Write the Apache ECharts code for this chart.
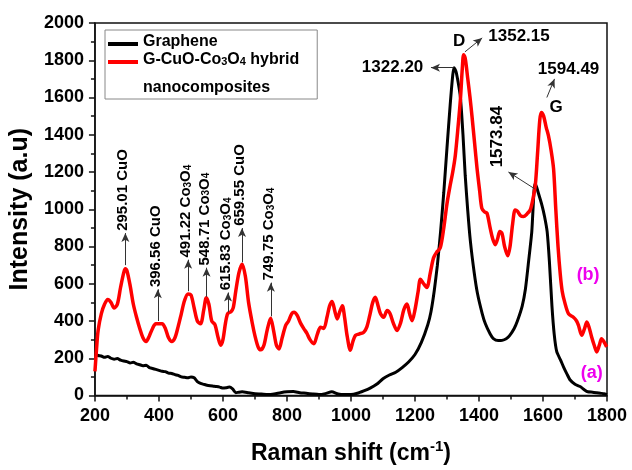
<!DOCTYPE html>
<html>
<head>
<meta charset="utf-8">
<script src="https://cdn.jsdelivr.net/npm/echarts@6/dist/echarts.min.js"></script>
<style>
  html, body { margin: 0; padding: 0; background: #fff; }
  #chart { width: 632px; height: 470px; }
</style>
</head>
<body>
<div id="chart"></div>
<script>
// Raman spectra: (a) graphene, (b) G-CuO-Co3O4 hybrid nanocomposite
const shiftA = [200,210,220,230,240,250,260,270,280,290,300,310,320,330,340,350,360,370,380,390,400,410,420,430,440,450,460,470,480,490,500,510,520,530,540,550,560,570,580,590,600,610,620,630,640,650,660,680,700,720,740,760,780,800,820,840,860,880,900,920,940,960,980,1000,1020,1040,1060,1080,1100,1120,1140,1160,1180,1200,1220,1240,1250,1260,1270,1280,1290,1300,1310,1318,1322,1328,1335,1342,1350,1357,1365,1373,1385,1395,1410,1420,1435,1445,1460,1472,1485,1495,1510,1520,1535,1545,1555,1565,1572,1576,1585,1597,1605,1613,1620,1628,1635,1643,1655,1664,1675,1685,1700,1716,1730,1740,1755,1768,1780,1790,1800];
const intensityA = [222,215,212,205,210,200,195,198,190,185,182,175,178,170,165,160,163,150,145,140,135,130,128,120,118,112,108,100,98,95,100,95,75,65,60,55,52,50,48,45,40,42,45,35,15,18,20,15,10,8,5,8,15,20,22,15,12,8,5,10,20,8,5,5,12,25,40,60,90,110,125,150,180,220,285,380,450,560,700,880,1090,1330,1560,1720,1760,1740,1680,1600,1400,1180,990,830,660,550,440,385,330,305,295,296,305,320,360,400,480,570,720,880,1100,1138,1090,1020,960,880,720,480,330,235,190,154,115,83,60,48,30,20,18,15,12,10,5];

const shiftB = [200,205,210,220,230,240,250,260,270,280,290,295,300,310,320,330,340,350,360,370,380,390,400,410,420,430,440,450,460,470,480,491,500,510,520,530,540,548,556,565,575,585,593,600,608,615,625,632,640,650,660,670,680,692,700,710,718,728,738,749,758,767,775,785,796,805,815,822,832,842,853,862,872,884,895,905,915,925,933,941,950,957,965,973,980,988,998,1006,1014,1025,1040,1050,1060,1068,1076,1085,1092,1102,1113,1122,1132,1144,1155,1165,1175,1183,1191,1200,1210,1217,1227,1237,1248,1258,1268,1279,1290,1300,1310,1318,1326,1335,1342,1348,1352,1357,1365,1372,1378,1386,1394,1402,1409,1418,1425,1435,1443,1451,1458,1465,1472,1480,1490,1497,1505,1513,1520,1530,1539,1550,1560,1568,1576,1583,1590,1595,1602,1610,1617,1625,1633,1640,1647,1654,1660,1668,1680,1695,1705,1711,1721,1730,1737,1745,1752,1760,1768,1776,1783,1790,1799];
const intensityB = [130,250,350,440,490,515,500,470,490,580,660,680,670,590,490,420,360,310,290,320,360,385,385,385,360,310,290,310,370,440,510,545,540,470,400,385,460,525,490,400,380,310,270,300,390,440,450,470,560,660,705,640,500,385,320,260,245,270,350,415,350,270,250,310,377,400,440,447,430,390,358,335,300,278,330,367,360,420,480,505,450,411,450,482,420,320,243,290,323,330,340,370,440,500,527,480,440,420,456,440,390,349,390,460,491,440,402,460,560,624,600,580,660,739,770,793,900,1030,1129,1200,1289,1450,1590,1760,1830,1810,1700,1600,1502,1360,1218,1100,1005,985,979,899,840,810,840,880,870,800,750,800,920,996,990,965,961,975,996,1050,1129,1300,1480,1520,1500,1440,1395,1320,1218,1000,800,650,560,500,438,420,400,376,323,360,394,360,314,270,234,270,305,290,261];

// Assigned bands of the composite
const bandShift = [295.01, 396.56, 491.22, 548.71, 615.83, 659.55, 749.75];
const bandPhase = ['CuO', 'CuO', 'Co3O4', 'Co3O4', 'Co3O4', 'CuO', 'Co3O4'];

// D and G band positions
const dBandA = 1322.20, dBandB = 1352.15;
const gBandA = 1573.84, gBandB = 1594.49;

const xTicks = { min: 200, max: 1800, step: 200 };
const yTicks = { min: 0, max: 2000, step: 200 };

const FONT = 'Liberation Sans, Arial, sans-serif';

function pairs(xs, ys) { return xs.map((x, i) => [x, ys[i]]); }
function valueAt(xs, ys, x) {
  let best = 0;
  xs.forEach((v, i) => { if (Math.abs(v - x) < Math.abs(xs[best] - x)) best = i; });
  return ys[best];
}
function phaseRich(p) {
  return p === 'Co3O4' ? '{t|Co}{s|3}{t|O}{s|4}' : '{t|' + p + '}';
}

const annRich = {
  t: { fontSize: 15, fontWeight: 'bold', fontFamily: FONT, color: '#000', padding: [0, 0, 4, 0] },
  s: { fontSize: 10, fontWeight: 'bold', fontFamily: FONT, color: '#000' }
};
const bigLabel = { fontSize: 17, fontWeight: 'bold', fontFamily: FONT, color: '#000' };

// arrow tail / head for each composite band label
const bandArrow = [[700, 872], [400, 570], [560, 729], [530, 686], [447, 553], [715, 899], [425, 606]];

const arrowStyle = { color: '#333', width: 1, type: 'solid' };

const bandArrows = bandShift.map((x, i) => [
  { coord: [x, bandArrow[i][0]] }, { coord: [x, bandArrow[i][1]] }
]);
const bandNotes = bandShift.map((x, i) => ({
  coord: [x, bandArrow[i][1] + 12],
  label: {
    show: true, position: 'inside', rotate: 90, align: 'left', verticalAlign: 'middle',
    formatter: '{t|' + x.toFixed(2) + ' }' + phaseRich(bandPhase[i]),
    rich: annRich
  }
}));

const peakA_D = valueAt(shiftA, intensityA, dBandA);
const peakB_D = valueAt(shiftB, intensityB, dBandB);
const peakA_G = valueAt(shiftA, intensityA, gBandA);

const tickText = { fontSize: 18, fontWeight: 'bold', fontFamily: FONT, color: '#000', formatter: v => String(v) };
const axisLine = { show: true, lineStyle: { color: '#111', width: 1.5 } };
const axisTick = { show: true, length: 6, lineStyle: { color: '#111', width: 1.5 } };
const minorTick = { show: true, splitNumber: 2, length: 4, lineStyle: { color: '#111', width: 1.5 } };

const option = {
  animation: false,
  backgroundColor: '#fff',
  grid: { left: 94, right: 25, top: 23, bottom: 71, show: true, borderColor: '#111', borderWidth: 1.5 },
  legend: {
    left: 105, top: 30, orient: 'vertical',
    itemWidth: 30, itemHeight: 4, icon: 'rect', itemGap: 2,
    padding: [4, 18, 31, 3],
    borderColor: '#888', borderWidth: 1,
    textStyle: { fontSize: 16, fontWeight: 'bold', fontFamily: FONT, color: '#000',
      rich: {
        t: { fontSize: 16, fontWeight: 'bold', fontFamily: FONT, color: '#000', padding: [0, 0, 4, 0] },
        s: { fontSize: 11, fontWeight: 'bold', fontFamily: FONT, color: '#000' }
      } },
    formatter: function (name) {
      return name === 'Graphene' ? '{t|Graphene}' : '{t|G-CuO-Co}{s|3}{t|O}{s|4}{t| hybrid}';
    },
    data: ['Graphene', 'G-CuO-Co3O4 hybrid nanocomposites']
  },
  graphic: [{
    type: 'text', left: 143, top: 80,
    style: { text: 'nanocomposites', fontSize: 16, fontWeight: 'bold', fontFamily: FONT, fill: '#000' }
  }],
  xAxis: {
    type: 'value', min: xTicks.min, max: xTicks.max, interval: xTicks.step,
    name: '{t|Raman shift (cm}{sup|-1}{t|)}', nameLocation: 'middle', nameGap: 44,
    nameTextStyle: { rich: {
      t: { fontSize: 23, fontWeight: 'bold', fontFamily: FONT, color: '#000' },
      sup: { fontSize: 15, fontWeight: 'bold', fontFamily: FONT, color: '#000', padding: [0, 0, 13, 0] }
    } },
    axisLine, axisTick, minorTick,
    axisLabel: { ...tickText, margin: 12 },
    splitLine: { show: false }
  },
  yAxis: {
    type: 'value', min: yTicks.min, max: yTicks.max, interval: yTicks.step,
    name: 'Intensity (a.u)', nameLocation: 'middle', nameGap: 52,
    nameTextStyle: { fontSize: 25, fontWeight: 'bold', fontFamily: FONT, color: '#000' },
    axisLine, axisTick, minorTick,
    axisLabel: { ...tickText, margin: 11 },
    splitLine: { show: false }
  },
  series: [
    {
      name: 'Graphene', type: 'line', data: pairs(shiftA, intensityA),
      showSymbol: false, smooth: 0.2, z: 3,
      lineStyle: { color: '#000', width: 3 }, itemStyle: { color: '#000' },
      markLine: {
        silent: true, symbol: ['none', 'arrow'], symbolSize: [6, 9], label: { show: false },
        lineStyle: arrowStyle,
        data: [
          [{ coord: [dBandA - 2, peakA_D] }, { coord: [1250, peakA_D] }],
          [{ coord: [gBandA, peakA_G + 10] }, { coord: [1492, 1200] }]
        ]
      },
      markPoint: {
        symbol: 'circle', symbolSize: 0, silent: true,
        data: [
          { coord: [1226, peakA_D], label: { show: true, position: 'inside', align: 'right', verticalAlign: 'middle', formatter: dBandA.toFixed(2), ...bigLabel } },
          { coord: [1457, 1225], label: { show: true, position: 'inside', rotate: 90, align: 'left', verticalAlign: 'middle', formatter: gBandA.toFixed(2), ...bigLabel } },
          { coord: [1752, 122], label: { show: true, position: 'inside', formatter: '(a)', fontSize: 18, fontWeight: 'bold', fontFamily: FONT, color: '#ee00ee' } }
        ]
      }
    },
    {
      name: 'G-CuO-Co3O4 hybrid nanocomposites', type: 'line', data: pairs(shiftB, intensityB),
      showSymbol: false, smooth: 0.3, z: 4,
      lineStyle: { color: '#ff0000', width: 3.5 }, itemStyle: { color: '#ff0000' },
      markLine: {
        silent: true, symbol: ['none', 'arrow'], symbolSize: [6, 9], label: { show: false },
        lineStyle: arrowStyle,
        data: bandArrows.concat([
          [{ coord: [dBandB + 4, peakB_D + 15] }, { coord: [1410, 1920] }],
          [{ coord: [1612, 1600] }, { coord: [1636, 1700] }]
        ])
      },
      markPoint: {
        symbol: 'circle', symbolSize: 0, silent: true,
        data: bandNotes.concat([
          { coord: [1429, 1931], label: { show: true, position: 'inside', align: 'left', verticalAlign: 'middle', formatter: dBandB.toFixed(2), ...bigLabel } },
          { coord: [1338, 1899], label: { show: true, position: 'inside', formatter: 'D', ...bigLabel } },
          { coord: [1680, 1750], label: { show: true, position: 'inside', formatter: gBandB.toFixed(2), ...bigLabel } },
          { coord: [1641, 1548], label: { show: true, position: 'inside', formatter: 'G', ...bigLabel } },
          { coord: [1741, 649], label: { show: true, position: 'inside', formatter: '(b)', fontSize: 18, fontWeight: 'bold', fontFamily: FONT, color: '#ee00ee' } }
        ])
      }
    }
  ]
};

const chart = echarts.init(document.getElementById('chart'), null, { renderer: 'canvas' });
chart.setOption(option);
</script>
</body>
</html>
